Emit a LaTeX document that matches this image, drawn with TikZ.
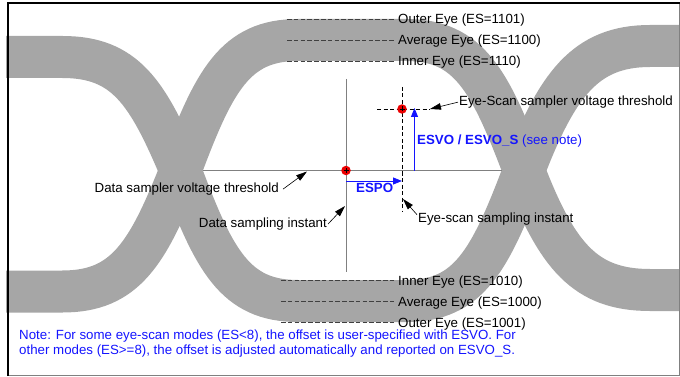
\documentclass[tikz,border=0pt]{standalone}
\usepackage{fontspec}
\setmainfont{Liberation Sans}
\usetikzlibrary{arrows.meta}
\definecolor{bandgray}{RGB}{166,166,166}
\definecolor{linegray}{RGB}{128,128,128}
\definecolor{noteblue}{RGB}{20,20,255}
\definecolor{dotred}{RGB}{235,0,0}
\begin{document}
\begin{tikzpicture}[x=1pt,y=-1pt,
  band/.style={line width=42pt, draw=bandgray},
  gline/.style={draw=linegray, line width=1pt},
  eyedash/.style={draw=black!75, line width=0.6pt, dash pattern=on 4.5pt off 2.3pt},
  scandash/.style={draw=black, line width=0.7pt, dash pattern=on 4pt off 2.5pt},
  lbl/.style={inner sep=0pt, font=\fontsize{13.3}{15}\selectfont},
  bluelbl/.style={lbl, text=noteblue},
  callout/.style={draw=black, line width=0.6pt, -{Triangle[length=11pt,width=6.5pt]}},
  bluearrow/.style={draw=noteblue, line width=0.9pt, -{Triangle[length=9pt,width=7pt,fill=noteblue]}},
  sdot/.style={circle, fill=dotred, minimum size=9.5pt, inner sep=0pt}
]
\useasboundingbox (0,0) rectangle (680,377);

% eye bands
\begin{scope}
\clip (6,4) rectangle (679,376);
% main eye
\draw[band] (180.5,170.5) .. controls (214,80.5) and (235,40) .. (298,40) -- (406,40)
  .. controls (469,40) and (490,80.5) .. (524,170.5);
\draw[band] (180.5,170.5) .. controls (214,260.5) and (235,301) .. (298,301) -- (406,301)
  .. controls (469,301) and (490,260.5) .. (524,170.5);
% left part
\draw[band] (180.5,170.5) .. controls (147.5,92) and (125,57) .. (62.5,57) -- (-10,57);
\draw[band] (180.5,170.5) .. controls (147.5,254) and (125,291.5) .. (62.5,291.5) -- (-10,291.5);
% right part
\draw[band] (524,170.5) .. controls (557,85) and (585,46) .. (650,46) -- (700,46);
\draw[band] (524,170.5) .. controls (557,256) and (585,290) .. (650,290) -- (700,290);
\end{scope}

% frame
\draw[linegray, line width=0.8pt] (8,375.5) -- (679,375.5) -- (679,3.5);
\draw[black, line width=2pt] (8,376) -- (8,3.5) -- (679.5,3.5);

% reference lines
\coordinate (thL) at (203,170.5);
\coordinate (thR) at (502,170.5);
\coordinate (siT) at (346,79);
\coordinate (siB) at (346,272);
\draw[gline] (thL) -- (thR);
\draw[gline] (siT) -- (siB);

% eye-scan dashed lines
\coordinate (esT) at (402,87);
\coordinate (esB) at (402,212);
\coordinate (evL) at (377,109);
\coordinate (evR) at (430,109);
\draw[scandash] (esT) -- (esB);
\draw[scandash] (evL) -- (evR);

% eye level dashed lines
\coordinate (oTs) at (287,19);  \coordinate (oTe) at (394,19);
\coordinate (aTs) at (287,40);  \coordinate (aTe) at (394,40);
\coordinate (iTs) at (287,61);  \coordinate (iTe) at (394,61);
\coordinate (iBs) at (281,280); \coordinate (iBe) at (394,280);
\coordinate (aBs) at (281,301); \coordinate (aBe) at (394,301);
\coordinate (oBs) at (281,322); \coordinate (oBe) at (394,322);
\foreach \s/\e in {oTs/oTe,aTs/aTe,iTs/iTe,iBs/iBe,aBs/aBe,oBs/oBe}
  \draw[eyedash] (\s) -- (\e);

\node[lbl, anchor=base west] (lOT) at (398,24) {Outer Eye (ES=1101)};
\node[lbl, anchor=base west] (lAT) at (398,45) {Average Eye (ES=1100)};
\node[lbl, anchor=base west] (lIT) at (398,66) {Inner Eye (ES=1110)};
\node[lbl, anchor=base west] (lIB) at (398,285) {Inner Eye (ES=1010)};
\node[lbl, anchor=base west] (lAB) at (398,306) {Average Eye (ES=1000)};
\node[lbl, anchor=base west] (lOB) at (398,327) {Outer Eye (ES=1001)};

% sample points
\node[sdot] (dp) at (346,170.5) {};
\node[sdot] (ep) at (402,109) {};
\foreach \p in {dp,ep}{
  \draw[black, line width=0.4pt] ([xshift=-2.5pt]\p.center) -- ([xshift=2.5pt]\p.center);
  \draw[black, line width=0.4pt] ([yshift=-2.5pt]\p.center) -- ([yshift=2.5pt]\p.center);
}

% blue offset arrows
\coordinate (vB) at (414.5,170.5);
\coordinate (vT) at (414.5,108);
\coordinate (hL) at (346,181);
\coordinate (hR) at (402,181);
\draw[bluearrow] (vB) -- (vT);
\draw[bluearrow] (hL) -- (hR);
\node[bluelbl, anchor=base west] (lESVO) at (417,144.5) {\bfseries ESVO / ESVO\_S\mdseries{} (see note)};
\node[bluelbl, anchor=base west] (lESPO) at (356,192.6) {\bfseries ESPO};

% callout labels
\node[lbl, anchor=base west] (lESV) at (459,105.6) {Eye-Scan sampler voltage threshold};
\node[lbl, anchor=base east] (lDT) at (279,192.6) {Data sampler voltage threshold};
\node[lbl, anchor=base east] (lDS) at (327,227.5) {Data sampling instant};
\node[lbl, anchor=base west] (lES) at (418,222.5) {Eye-scan sampling instant};

\coordinate (tESV) at (430,109);
\coordinate (tDT) at (307,171.5);
\coordinate (tDS) at (345,206);
\coordinate (tES) at (403,199);
\draw[callout] ([xshift=-1pt]lESV.west) -- (tESV);
\draw[callout] ([xshift=4pt]lDT.east) -- (tDT);
\draw[callout] ([xshift=1pt]lDS.east) -- (tDS);
\draw[callout] ([xshift=-1pt,yshift=-2pt]lES.north west) -- (tES);

% note
\node[bluelbl, anchor=base west, align=left] (note) at (19,354.5)
  {Note: For some eye-scan modes (ES<8), the offset is user-specified with ESVO. For\\
   other modes (ES>=8), the offset is adjusted automatically and reported on ESVO\_S.};
\end{tikzpicture}
\end{document}
